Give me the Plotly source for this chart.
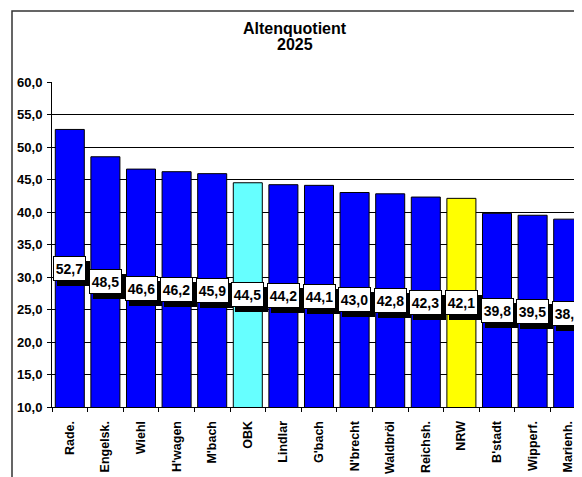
import plotly.graph_objects as go

categories = ["Rade.", "Engelsk.", "Wiehl", "H'wagen", "M'bach", "OBK", "Lindlar",
              "G'bach", "N'brecht", "Waldbröl", "Reichsh.", "NRW", "B'stadt",
              "Wipperf.", "Marienh."]
values = [52.7, 48.5, 46.6, 46.2, 45.9, 44.5, 44.2, 44.1, 43.0, 42.8, 42.3, 42.1,
          39.8, 39.5, 38.9]
highlight = {"OBK": "#66FFFF", "NRW": "#FFFF00"}
y_ticks = [10, 15, 20, 25, 30, 35, 40, 45, 50, 55, 60]
y_min, y_max = 10, 60
title_lines = ["Altenquotient", "2025"]

# page body has an 8px margin, so figure coords = screen coords - 8
W, H = 574, 469
L, R, T, B = 44, 574, 74, 399
pw, ph = R - L, B - T

font = "Arial, Liberation Sans, sans-serif"
colors = [highlight.get(c, "#0000FF") for c in categories]
fmt = lambda v: f"{v:.1f}".replace(".", ",")

fig = go.Figure()
fig.add_trace(go.Bar(
    x=categories, y=values, base=0,
    marker=dict(color=colors, line=dict(color="black", width=1)),
    hoverinfo="skip", showlegend=False,
))

annotations = []
for c, v in zip(categories, values):
    ymid = (y_min + v) / 2
    common = dict(x=c, y=ymid, xref="x", yref="y", showarrow=False,
                  text="<b>" + fmt(v) + "</b>",
                  width=29, height=21, borderpad=1, borderwidth=1,
                  font=dict(family=font, size=14, color="black"))
    annotations.append(dict(common, xshift=4, yshift=-5, bgcolor="black",
                            bordercolor="black"))
    annotations.append(dict(common, bgcolor="white", bordercolor="black"))

for line, py in zip(title_lines, [20, 36]):
    annotations.append(dict(
        x=(287 - L) / pw, y=(B - py) / ph, xref="paper", yref="paper",
        xanchor="center", yanchor="middle",
        showarrow=False, text="<b>" + line + "</b>",
        font=dict(family=font, size=16, color="black")))

fig.update_layout(
    width=W, height=H,
    margin=dict(l=L, r=W - R, t=T, b=H - B, autoexpand=False),
    paper_bgcolor="white", plot_bgcolor="white",
    bargap=0.185,
    font=dict(family=font, size=13, color="black"),
    annotations=annotations,
    shapes=[dict(type="rect", xref="paper", yref="paper",
                 x0=(4 - L) / pw, x1=1.3, y0=-0.8, y1=(B - 3) / ph,
                 line=dict(color="#333333", width=1.5), layer="below")],
    xaxis=dict(
        type="category", range=[-0.5, len(categories) - 0.5 - 4 / 35.6],
        tickangle=-90, ticks="outside", ticklen=4, tickcolor="black",
        tickson="boundaries", showline=True, linecolor="black", linewidth=1,
        showgrid=False, tickfont=dict(family=font, size=12.5, color="black"),
        ticklabelstandoff=8, automargin=False,
        tickprefix="<b>", ticksuffix="</b>",
    ),
    yaxis=dict(
        range=[y_min, y_max], tickvals=y_ticks,
        ticktext=["<b>" + fmt(t) + "</b>" for t in y_ticks],
        ticks="outside", ticklen=4, tickcolor="black",
        showline=True, linecolor="black", linewidth=1,
        showgrid=True, gridcolor="black", gridwidth=1,
        tickfont=dict(family=font, size=13, color="black"), automargin=False,
        ticklabelstandoff=2,
    ),
)

fig.write_html("out.html")
